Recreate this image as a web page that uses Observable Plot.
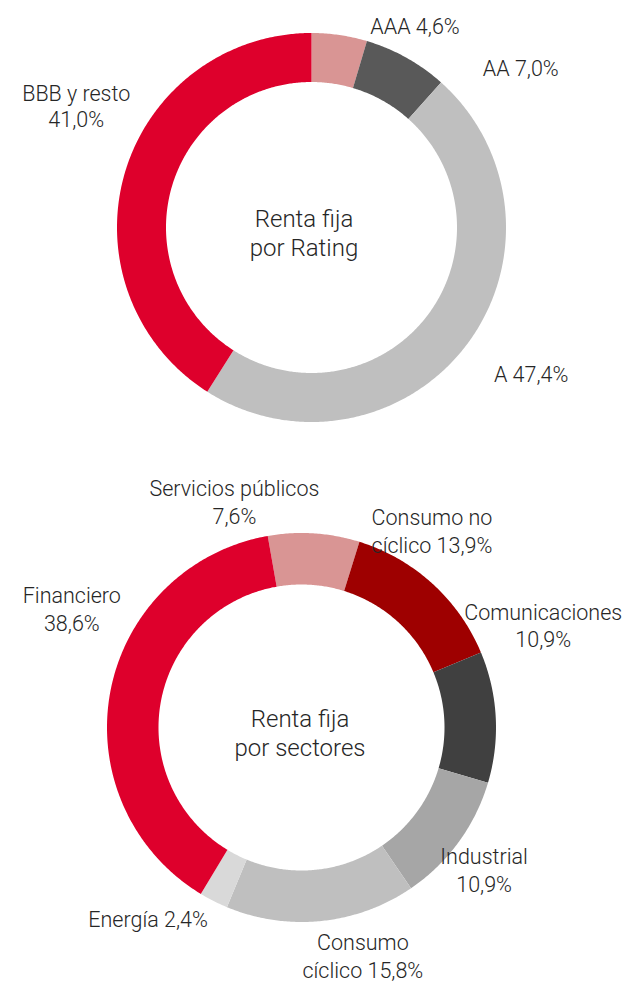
<!DOCTYPE html>
<html>
<head>
<meta charset="utf-8">
<script src="https://cdn.jsdelivr.net/npm/d3@7"></script>
<script src="https://cdn.jsdelivr.net/npm/@observablehq/plot@0.6"></script>
<style>
  html, body { margin: 0; padding: 0; background: #ffffff; }
  #chart { width: 627px; }
  #chart svg { display: block; }
</style>
</head>
<body>
<div id="chart"></div>
<script>
// ---------- Data ----------
const ratingCategories = ["AAA", "AA", "A", "BBB y resto"];
const ratingValues = [4.6, 7.0, 47.4, 41.0];
const ratingLabels = ["AAA 4,6%", "AA 7,0%", "A 47,4%", "BBB y resto\n41,0%"];
const ratingTitle = "Renta fija\npor Rating";

const sectorCategories = ["Servicios públicos", "Consumo no cíclico", "Comunicaciones", "Industrial", "Consumo cíclico", "Energía", "Financiero"];
const sectorValues = [7.6, 13.9, 10.9, 10.9, 15.8, 2.4, 38.6];
const sectorLabels = ["Servicios públicos\n7,6%", "Consumo no\ncíclico 13,9%", "Comunicaciones\n10,9%", "Industrial\n10,9%", "Consumo\ncíclico 15,8%", "Energía 2,4%", "Financiero\n38,6%"];
const sectorTitle = "Renta fija\npor sectores";

// ---------- Styles / layout ----------
const ratingColors = ["#d99594", "#595959", "#bfbfbf", "#de002c"];
const sectorColors = ["#d99594", "#9e0000", "#404040", "#a6a6a6", "#bfbfbf", "#d9d9d9", "#de002c"];

const W = 627;
const ratingLayout = {
  height: 460, cx: 311.5, cy: 227.5, R: 194.5, r: 145.5, startDeg: 0,
  lineHeight: 1.22,
  labelNudges: [[75, -10], [114, 9], [64, 28], [-49, -68]],
  titleNudge: [-8, 4]
};
const sectorLayout = {
  height: 522, cx: 301.5, cy: 267.5, R: 194.5, r: 143, startDeg: -10,
  lineHeight: 1.3,
  labelNudges: [[-80, -33], [-1, -54], [47, -93], [25, 26], [41, 34], [-66, 17], [-39, -84]],
  titleNudge: [-2, 4]
};

function donut(categories, values, labels, colors, title, L) {
  const total = d3.sum(values);
  let acc = 0;
  const slices = values.map((v, i) => {
    const a0 = L.startDeg + acc / total * 360;
    acc += v;
    const a1 = L.startDeg + acc / total * 360;
    return {cat: categories[i], a0, a1};
  });
  const pts = slices.flatMap(s => {
    const n = Math.max(2, Math.ceil((s.a1 - s.a0) / 0.5));
    return d3.range(n + 1).map(k => {
      const a = (s.a0 + (s.a1 - s.a0) * k / n) * Math.PI / 180;
      return {cat: s.cat,
        xo: L.R * Math.sin(a), yo: -L.R * Math.cos(a),
        xi: L.r * Math.sin(a), yi: -L.r * Math.cos(a)};
    });
  });
  const labelData = slices.map((s, i) => {
    const m = (s.a0 + s.a1) / 2 * Math.PI / 180;
    return {text: labels[i],
      x: L.R * Math.sin(m) + L.labelNudges[i][0],
      y: -L.R * Math.cos(m) + L.labelNudges[i][1]};
  });
  const titleData = [{text: title, x: L.titleNudge[0], y: L.titleNudge[1]}];
  return Plot.plot({
    width: W,
    height: L.height,
    margin: 0,
    x: {domain: [-L.cx, W - L.cx], range: [0, W], axis: null},
    y: {domain: [-L.cy, L.height - L.cy], range: [0, L.height], axis: null},
    color: {domain: categories, range: colors},
    style: {fontFamily: "Roboto, 'Open Sans', sans-serif", background: "#ffffff"},
    marks: [
      Plot.area(pts, {x1: "xo", y1: "yo", x2: "xi", y2: "yi", z: "cat", fill: "cat", curve: "linear"}),
      Plot.text(labelData, {x: "x", y: "y", text: "text", fontSize: 21.5, fontWeight: 300,
        lineHeight: L.lineHeight, lineAnchor: "middle", fill: "#262626"}),
      Plot.text(titleData, {x: "x", y: "y", text: "text", fontSize: 24, fontWeight: 300,
        lineHeight: 1.21, lineAnchor: "middle", fill: "#262626"})
    ]
  });
}

const chart = document.getElementById("chart");
chart.appendChild(donut(ratingCategories, ratingValues, ratingLabels, ratingColors, ratingTitle, ratingLayout));
chart.appendChild(donut(sectorCategories, sectorValues, sectorLabels, sectorColors, sectorTitle, sectorLayout));
</script>
</body>
</html>
